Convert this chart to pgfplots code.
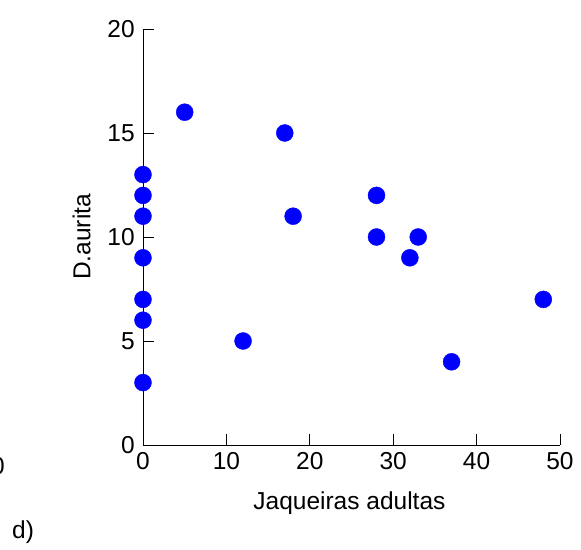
\documentclass[border=0pt]{standalone}
\usepackage{pgfplots}
\pgfplotsset{compat=1.18}
\usepackage{fontspec}
\setmainfont{Liberation Sans}
\begin{document}
\fontsize{24.5bp}{29bp}\selectfont
\begin{tikzpicture}
\begin{axis}[
  at={(0,0)}, anchor=origin,
  scale only axis,
  width=417bp, height=416bp,
  xmin=0, xmax=50, ymin=0, ymax=20,
  axis lines=left,
  axis line style={-, line width=0.8pt},
  xtick={0,10,20,30,40,50},
  ytick={0,5,10,15,20},
  tick align=inside,
  major tick length=11bp,
  tick style={black, line width=0.8pt},
  /pgf/number format/assume math mode=true,
  ticklabel style={font=\fontsize{24.5bp}{29bp}\selectfont},
  label style={font=\fontsize{24.5bp}{29bp}\selectfont},
  xticklabel style={yshift=1bp},
  xlabel={Jaqueiras adultas},
  ylabel={D.aurita},
  xlabel style={at={(axis description cs:0.495,0)}, anchor=north, yshift=-38bp},
  ylabel style={at={(axis description cs:0,0.5)}, anchor=south, yshift=44bp},
  clip=false,
]
\addplot[only marks, mark=*, mark size=8.5bp, color={rgb,255:red,0;green,0;blue,255}]
  coordinates {
  (5,16) (17,15) (0,13) (0,12) (28,12) (0,11) (18,11) (28,10) (33,10)
  (0,9) (32,9) (0,7) (48,7) (0,6) (12,5) (37,4) (0,3)
  };
\end{axis}
\node[anchor=base west, inner sep=0pt] at (-131bp,-93bp) {d)};
\node[anchor=east, inner sep=0pt] at (-138bp,-21bp) {0};
\pgfresetboundingbox
\path[use as bounding box] (-143bp,-105bp) rectangle (438bp,445bp);
\end{tikzpicture}
\end{document}
